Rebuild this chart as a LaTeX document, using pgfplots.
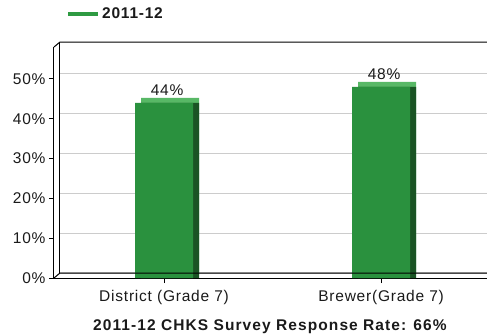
\documentclass[border=0pt]{standalone}
\usepackage{pgfplots}
\pgfplotsset{compat=1.18}
\usepackage{fontspec}
\setmainfont{Liberation Sans}[LetterSpace=5]
\definecolor{barfront}{HTML}{2A913E}
\definecolor{barside}{HTML}{1A5424}
\definecolor{bartop}{HTML}{58B866}
\definecolor{leggreen}{HTML}{2E9A42}
\definecolor{txt}{HTML}{1A1A1A}
\newcommand\lbl{\fontsize{15.5}{18}\selectfont}
\begin{document}
\begin{tikzpicture}
\useasboundingbox (0pt,0pt) rectangle (487pt,333pt);
\begin{axis}[
  at={(54pt,55pt)}, anchor=south west, scale only axis,
  width=433pt, height=231pt,
  xmin=-0.507, xmax=1.488, ymin=0, ymax=58,
  axis x line=bottom, axis y line=left,
  axis line style={-, black, line width=1pt},
  clip=false,
  /pgf/number format/assume math mode=true,
  xtick={0,1}, xticklabels={District (Grade 7), Brewer(Grade 7)},
  ytick={0,10,20,30,40,50}, yticklabels={0\%,10\%,20\%,30\%,40\%,50\%},
  tick align=outside, major tick length=5pt,
  tick style={black, line width=0.8pt},
  ticklabel style={font=\lbl, text=txt},
  xticklabel style={yshift=-4pt},
  ymajorgrids, major grid style={draw=black!20, line width=1.2pt, xshift=6pt, yshift=5pt},
  xlabel={\textbf{\addfontfeatures{LetterSpace=7}2011-12 CHKS Survey Response Rate: 66\%}},
  xlabel style={at={(axis description cs:0.5,0)}, anchor=base, yshift=-52pt, font=\lbl, text=txt},
  ybar, bar width=58pt,
  legend image code/.code={\draw[line width=4pt, leggreen] (0pt,0pt) -- (30pt,0pt);},
  legend style={draw=none, fill=none, at={(axis description cs:0,1)}, anchor=west,
    xshift=9pt, yshift=33pt, font=\lbl\bfseries, text=txt,
    /tikz/every even column/.append style={column sep=9pt}},
]
\addplot[fill=bartop, draw=none, xshift=6pt, yshift=5pt, forget plot] coordinates {(0,44) (1,48)};
\addplot[fill=barside, draw=none, xshift=6pt, forget plot] coordinates {(0,44) (1,48)};
\addplot[fill=barfront, draw=none,
  nodes near coords={\pgfmathprintnumber{\pgfplotspointmeta}\%},
  every node near coord/.append style={font=\lbl, text=txt, xshift=3pt, yshift=4pt}]
  coordinates {(0,44) (1,48)};
\addlegendentry{2011-12}
% 3D frame decoration
\draw[black, line width=1pt] (rel axis cs:0,1) -- ++(6pt,5pt) -- ([shift={(6pt,5pt)}]rel axis cs:1.1,1);
\draw[black, line width=1pt] ([shift={(6pt,5pt)}]rel axis cs:0,1) -- ([shift={(6pt,5pt)}]rel axis cs:0,0);
\draw[black, line width=1pt] (rel axis cs:0,0) -- ++(6pt,5pt) -- ([shift={(6pt,5pt)}]rel axis cs:1.1,0);
\end{axis}
\end{tikzpicture}
\end{document}
